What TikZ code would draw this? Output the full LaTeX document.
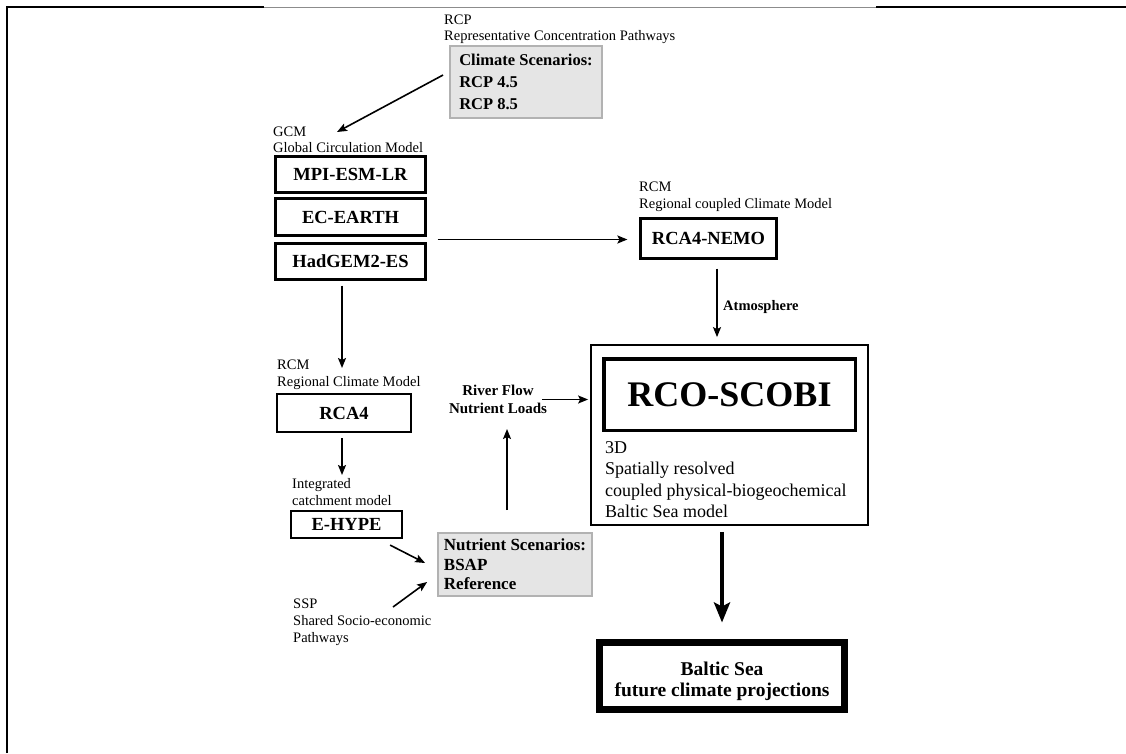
\documentclass[tikz,border=0pt]{standalone}
\usepackage{fontspec}
\setmainfont{Liberation Serif}
\usetikzlibrary{arrows.meta,calc}
\newcommand\setfs[2]{\fontsize{#1}{#2}\selectfont}
\begin{document}
\begin{tikzpicture}[x=1pt,y=-1pt,
  bx/.style={draw, line width=2.2pt, inner sep=0pt, font=\bfseries\setfs{18.5}{22}},
  gbx/.style={draw=black!30, fill=black!10, line width=1.8pt, inner sep=0pt, align=left},
  lbl/.style={inner sep=0pt, anchor=north west, align=left, font=\setfs{14.5}{16.5}},
  arr/.style={line width=1.6pt, -{Stealth[length=10pt,width=8pt,inset=2pt]}},
  bigarr/.style={line width=4pt, -{Stealth[length=20pt,width=16pt,inset=4pt]}},
  frame/.style={line width=2pt}
]
\useasboundingbox (0,0) rectangle (1126,753);
\fill[white] (0,0) rectangle (1126,753);

% frame
\draw[frame] (7,753) -- (7,7) -- (264,7);
\draw[line width=1.5pt, black!45] (264,7.3) -- (876,7.3);
\draw[frame] (876,7) -- (1126,7);

% top
\node[lbl, font=\setfs{14.5}{16}] (rcplbl) at (444,15) {RCP\\Representative Concentration Pathways};
\node[gbx, minimum width=152, minimum height=72, font=\bfseries\setfs{16.5}{22}] (clim) at (526,82) {Climate Scenarios:\\RCP 4.5\\RCP 8.5};

% GCM stack
\node[lbl, font=\setfs{14.5}{16}] (gcmlbl) at (273,127) {GCM\\Global Circulation Model};
\node[bx, minimum width=150, minimum height=36] (mpi) at (350.5,174.5) {MPI-ESM-LR};
\node[bx, minimum width=150, minimum height=37] (ec) at (350.5,217) {EC-EARTH};
\node[bx, minimum width=150, minimum height=36] (had) at (350.5,261.5) {HadGEM2-ES};

% RCA4-NEMO
\node[lbl, font=\setfs{14.5}{17}] (rcmclbl) at (639,182) {RCM\\Regional coupled Climate Model};
\node[bx, minimum width=136, minimum height=40] (nemo) at (708.5,238.5) {RCA4-NEMO};
\node[font=\bfseries\setfs{14.5}{17}, anchor=base west, inner sep=0pt] (atm) at (723,310.5) {Atmosphere};

% RCO-SCOBI
\node[draw, line width=1.8pt, minimum width=277, minimum height=180, inner sep=0pt] (rco) at (729.5,435) {};
\node[draw, line width=3.5pt, minimum width=251.5, minimum height=71.5, inner sep=0pt, font=\bfseries\setfs{36}{40}] (rcoin) at (729.5,394.5) {RCO-SCOBI};
\node[lbl, font=\setfs{18}{21.5}] (rcodesc) at (605,441) {3D\\Spatially resolved\\coupled physical-biogeochemical\\Baltic Sea model};

% Baltic Sea
\node[draw, line width=7pt, minimum width=245, minimum height=67, inner sep=0pt] (baltic) at (722,676) {};
\node[font=\bfseries\setfs{19.5}{21}, align=center, inner sep=0pt, anchor=north] (baltictxt) at (722,662) {Baltic Sea\\future climate projections};

% left column
\node[lbl, font=\setfs{14.5}{17}] (rcmlbl) at (277,360) {RCM\\Regional Climate Model};
\node[bx, minimum width=134, minimum height=38] (rca) at (344,413) {RCA4};
\node[lbl, font=\setfs{14.5}{17}] (icm) at (292,478) {Integrated\\catchment model};
\node[bx, minimum width=111, minimum height=27] (ehype) at (346.5,524.5) {E-HYPE};
\node[gbx, minimum width=154, minimum height=63, font=\bfseries\setfs{17}{19.5}] (nutr) at (515,564.5) {Nutrient Scenarios:\\BSAP\\Reference};
\node[lbl, font=\setfs{14.5}{17}] (ssp) at (293,599) {SSP\\Shared Socio-economic\\Pathways};
\node[font=\bfseries\setfs{15}{18}, align=center, inner sep=0pt, anchor=north] (river) at (498,385) {River Flow\\Nutrient Loads};

% connectors
\coordinate (gcmtip) at (337,132);
\draw[arr] ($(clim.west)+(-6,-7)$) -- (gcmtip);

\coordinate (gmid) at ($(ec.south east)!0.5!(had.north east)$);
\coordinate (gn) at (gmid -| nemo.west);
\draw[arr] ($(gmid)+(11,0)$) -- ($(gn)+(-12,0)$);

\coordinate (rcmtip) at (342,368);
\draw[arr] ($(had.south)+(-8.5,5)$) -- (rcmtip);
\coordinate (ictip) at (342,475);
\draw[arr] ($(rca.south)+(-2,5)$) -- (ictip);

\draw[arr] ($(ehype.south east)+(-13,6)$) -- ($(nutr.west)+(-12,-1.5)$);
\draw[arr] ($(ssp.north west)+(100,8)$) -- ($(nutr.west)+(-10,17.5)$);
\draw[arr] ($(nutr.north)+(-8,-22)$) -- ($(river.south)+(9,15)$);
\coordinate (rr) at (river.east -| rco.west);
\draw[arr] ($(river.east)+(-5,0)$) -- ($(rr)+(-2,0)$);

\draw[arr] ($(nemo.south)+(8.5,9)$) -- ($(rco.north)+(-12.5,-7)$);
\draw[bigarr] ($(rco.south)+(-7.5,6)$) -- ($(baltic.north)+(0,-16.5)$);
\end{tikzpicture}
\end{document}
